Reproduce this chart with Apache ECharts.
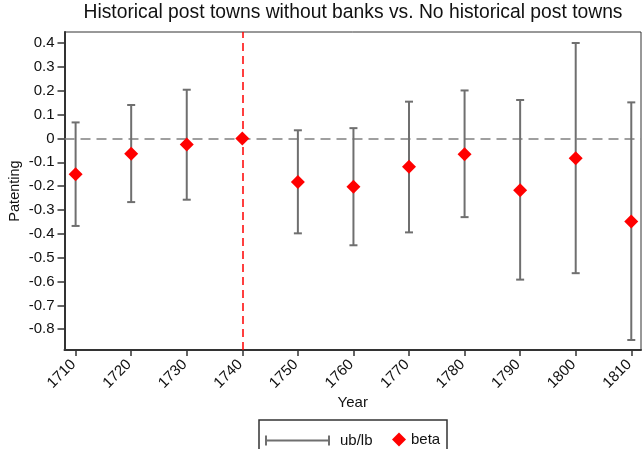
<!DOCTYPE html>
<html>
<head>
<meta charset="utf-8">
<script src="https://cdn.jsdelivr.net/npm/echarts@6/dist/echarts.min.js"></script>
<style>
  html, body { margin: 0; padding: 0; background: #fff; }
  #chart { width: 642px; height: 449px; }
</style>
</head>
<body>
<div id="chart"></div>
<script>
// event-study estimates
const years = [1710, 1720, 1730, 1740, 1750, 1760, 1770, 1780, 1790, 1800, 1810];
const beta = [-0.15, -0.064, -0.026, 0, -0.183, -0.203, -0.119, -0.066, -0.217, -0.083, -0.348];
const upper = [0.067, 0.14, 0.204, 0, 0.034, 0.043, 0.154, 0.201, 0.161, 0.4, 0.151];
const lower = [-0.367, -0.267, -0.257, 0, -0.398, -0.448, -0.394, -0.33, -0.592, -0.565, -0.845];
const yTicks = [0.4, 0.3, 0.2, 0.1, 0, -0.1, -0.2, -0.3, -0.4, -0.5, -0.6, -0.7, -0.8];
const refYear = 1740;

const FONT = 'Liberation Sans, Arial, sans-serif';
const BAR_COLOR = '#6f6f6f';

const chart = echarts.init(document.getElementById('chart'), null, { renderer: 'canvas' });

const ciData = years.map((y, i) => [y, lower[i], upper[i]]);
const betaData = years.map((y, i) => [y, beta[i]]);

function renderCI(params, api) {
  const x = api.value(0);
  const lo = api.value(1);
  const hi = api.value(2);
  if (lo === hi) return null;
  const top = api.coord([x, hi]);
  const bot = api.coord([x, lo]);
  const cap = 4;
  const style = { stroke: BAR_COLOR, lineWidth: 2 };
  return {
    type: 'group',
    children: [
      { type: 'line', shape: { x1: top[0], y1: top[1], x2: bot[0], y2: bot[1] }, style },
      { type: 'line', shape: { x1: top[0] - cap, y1: top[1], x2: top[0] + cap, y2: top[1] }, style },
      { type: 'line', shape: { x1: bot[0] - cap, y1: bot[1], x2: bot[0] + cap, y2: bot[1] }, style }
    ]
  };
}

const option = {
  animation: false,
  textStyle: { fontFamily: FONT },
  title: {
    text: 'Historical post towns without banks vs. No historical post towns',
    left: 353,
    textAlign: 'center',
    top: 3,
    padding: 0,
    textStyle: { fontFamily: FONT, fontSize: 19.3, fontWeight: 'normal', color: '#111' }
  },
  grid: {
    left: 64.5, right: 1, top: 32, bottom: 99,
    containLabel: false,
    outerBoundsMode: 'none',
    show: true, borderColor: '#333', borderWidth: 1
  },
  legend: [
    {
      data: [{ name: 'ub/lb', icon: 'path://M0,0 h2 v10 h-2 Z M0,4 h65 v2 h-65 Z M63,0 h2 v10 h-2 Z' }],
      left: 260, top: 428,
      itemWidth: 65, itemHeight: 10,
      itemStyle: { color: BAR_COLOR },
      textStyle: { fontFamily: FONT, fontSize: 15, color: '#111', padding: [0, 0, 0, 5] }
    },
    {
      data: [{ name: 'beta', icon: 'diamond' }],
      left: 387, top: 427,
      itemWidth: 14, itemHeight: 14,
      textStyle: { fontFamily: FONT, fontSize: 15, color: '#111' }
    }
  ],
  graphic: [
    {
      type: 'rect',
      shape: { x: 259, y: 420, width: 188, height: 40 },
      style: { fill: 'none', stroke: '#333', lineWidth: 1.5 },
      z: 100
    }
  ],
  xAxis: {
    type: 'value',
    min: 1708,
    max: 1811.75,
    name: 'Year',
    nameLocation: 'middle',
    nameGap: 45,
    nameMoveOverlap: false,
    nameTextStyle: { fontFamily: FONT, fontSize: 15, color: '#111' },
    splitLine: { show: false },
    axisLine: { show: true, onZero: false, lineStyle: { color: '#333', width: 2 } },
    axisTick: { show: true, customValues: years, length: 6, lineStyle: { color: '#333', width: 1.5 } },
    axisLabel: {
      customValues: years,
      rotate: 45,
      margin: 10,
      padding: [0, 3, 0, 0],
      fontFamily: FONT, fontSize: 15, color: '#111',
      formatter: v => String(v)
    }
  },
  yAxis: {
    type: 'value',
    min: -0.887,
    max: 0.446,
    name: 'Patenting',
    nameLocation: 'middle',
    nameGap: 42,
    nameMoveOverlap: false,
    nameTextStyle: { fontFamily: FONT, fontSize: 14.5, color: '#111' },
    splitLine: { show: false },
    axisLine: { show: true, onZero: false, lineStyle: { color: '#333', width: 2 } },
    axisTick: { show: true, customValues: yTicks, length: 7, lineStyle: { color: '#333', width: 1.5 } },
    axisLabel: {
      customValues: yTicks,
      margin: 10,
      fontFamily: FONT, fontSize: 15, color: '#111',
      formatter: v => (Math.abs(v) < 1e-9 ? '0' : String(Math.round(v * 10) / 10))
    }
  },
  series: [
    {
      name: 'ub/lb',
      type: 'custom',
      renderItem: renderCI,
      data: ciData,
      encode: { x: 0, y: [1, 2] },
      itemStyle: { color: BAR_COLOR },
      z: 2
    },
    {
      name: 'beta',
      type: 'scatter',
      data: betaData,
      symbol: 'diamond',
      symbolSize: 14,
      itemStyle: { color: '#ff0000', opacity: 1 },
      z: 5,
      markLine: {
        silent: true,
        symbol: 'none',
        label: { show: false },
        z: 1,
        data: [
          { yAxis: 0, lineStyle: { color: '#808080', type: [10, 6], width: 1.5 } },
          { xAxis: refYear, lineStyle: { color: '#ff0000', type: [8, 5], width: 1.5 } }
        ]
      }
    }
  ]
};

chart.setOption(option);
</script>
</body>
</html>
